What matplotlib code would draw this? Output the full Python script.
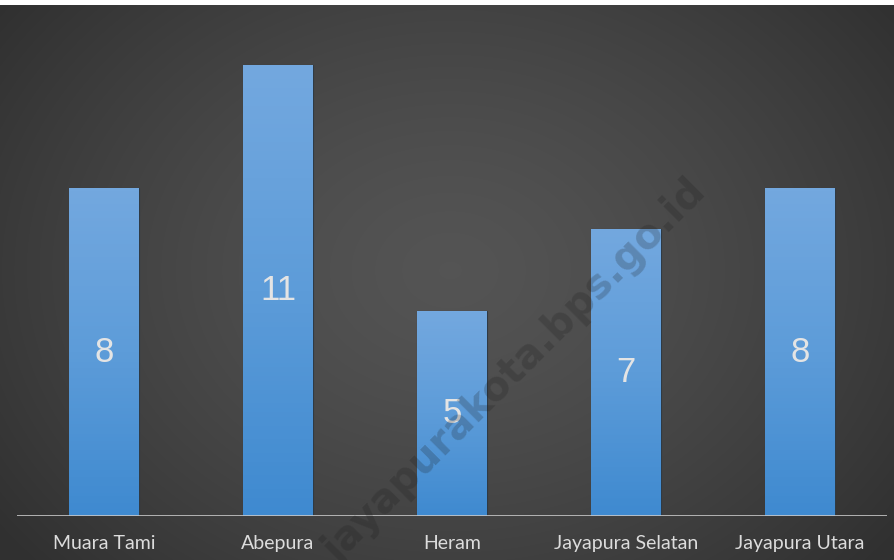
import numpy as np
import matplotlib.pyplot as plt
from matplotlib.colors import LinearSegmentedColormap

# Data
districts = ['Muara Tami', 'Abepura', 'Heram', 'Jayapura Selatan', 'Jayapura Utara']
counts = [8, 11, 5, 7, 8]

W, H = 894, 560
fig = plt.figure(figsize=(W / 100, H / 100), dpi=100)

# radial dark background, lighter in the middle
bg = fig.add_axes([0, 0, 1, 1])
yy, xx = np.mgrid[0:H, 0:W]
r = np.sqrt(((xx - 450) / 560) ** 2 + ((yy - 270) / 440) ** 2)
r = np.clip(r, 0, 1)
shade = 0.33 - 0.14 * r ** 1.4
img = np.dstack([shade, shade, shade])
img[:5, :, :] = 1.0  # white strip on top (spreadsheet edge)
bg.imshow(img, extent=[0, W, 0, H], origin='upper', aspect='auto')
bg.set_xlim(0, W)
bg.set_ylim(0, H)
bg.axis('off')

ax = fig.add_axes([17 / W, 44 / H, 870 / W, 492 / H])
ax.patch.set_alpha(0)
x = np.arange(len(districts))
bars = ax.bar(x, counts, width=0.4, color='#5b9bd5', edgecolor='#2f3a44', linewidth=0.8, zorder=2)

grad = LinearSegmentedColormap.from_list('bar', ['#3f8ad0', '#5d9cd9', '#73a8df'])
for b in bars:
    x0, w, hgt = b.get_x(), b.get_width(), b.get_height()
    im = ax.imshow(np.linspace(0, 1, 100).reshape(-1, 1), cmap=grad, origin='lower',
                   extent=[x0, x0 + w, 0, hgt], aspect='auto', zorder=2.5)
    im.set_clip_path(b)
    ax.text(b.get_x() + w / 2, hgt / 2, str(int(hgt)), ha='center', va='center',
            color='#e4e4e4', fontsize=25, family='Liberation Sans', zorder=4)

ax.set_xlim(-0.5, len(districts) - 0.5)
ax.set_ylim(0, 12)
ax.axhline(0, color='#c8c8c8', linewidth=1.2, zorder=3)
for s in ax.spines.values():
    s.set_visible(False)
ax.set_yticks([])
ax.set_xticks(x)
ax.set_xticklabels(districts, color='#dcdcdc', fontsize=14, family='Lato')
ax.tick_params(axis='x', length=0, pad=14)

# diagonal watermark, drawn over the bars
fig.text(515 / W, 1 - 372 / H, 'jayapurakota.bps.go.id', rotation=45, ha='center', va='center',
         fontsize=29, fontweight='bold', color='#1a1a1a', alpha=0.22,
         family='DejaVu Sans', zorder=10)

fig.savefig('out.png', dpi=100)
